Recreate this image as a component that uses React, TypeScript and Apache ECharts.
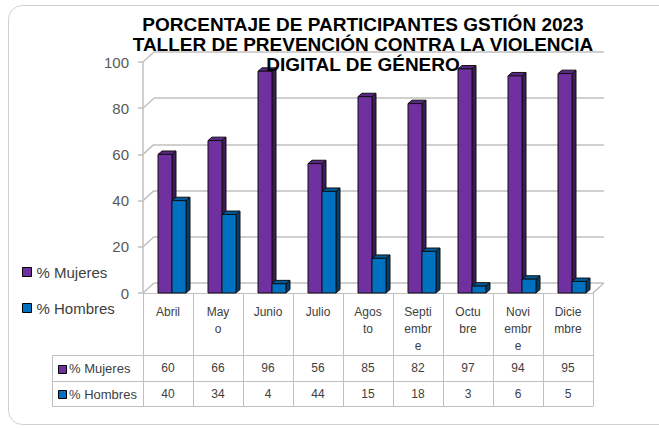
import React, { useEffect, useRef } from "react";
import * as echarts from "echarts";

const categories = ["Abril", "May\no", "Junio", "Julio", "Agos\nto", "Septi\nembr\ne", "Octu\nbre", "Novi\nembr\ne", "Dicie\nmbre"];
const mujeres = [60, 66, 96, 56, 85, 82, 97, 94, 95];
const hombres = [40, 34, 4, 44, 15, 18, 3, 6, 5];
const seriesNames = ["% Mujeres", "% Hombres"];
const yTicks = [0, 20, 40, 60, 80, 100];
const titleText = "PORCENTAJE DE PARTICIPANTES GSTIÓN 2023\nTALLER DE PREVENCIÓN CONTRA LA VIOLENCIA\nDIGITAL DE GÉNERO";

const FONT = "'Liberation Sans', Arial, sans-serif";
const W = 659;
const H = 428;
const PL = 143; // plot left
const PR = 593; // plot right
const PT = 62; // value 100
const PB = 293; // value 0
const DX = 11;
const DY = -10;
const BD = 4; // bar depth
const ROW1 = 62;
const ROW2 = 26;
const ROW3 = 25;

const faces = [
  { front: "#7030A0", top: "#5a2784", side: "#3d1a5c" },
  { front: "#0070C0", top: "#005a9c", side: "#003e6d" },
];

function barRender(si: number) {
  return (params: any, api: any) => {
    const cat = api.value(0);
    const v = api.value(1);
    const base = api.coord([cat, 0]);
    const top = api.coord([cat, v]);
    const bw = api.size([1, 0])[0];
    const barW = bw * 0.28;
    const x0 = base[0] - bw / 2 + bw * 0.3 + si * barW;
    const x1 = x0 + barW;
    const yt = top[1];
    const yb = base[1];
    const c = faces[si];
    const st = { stroke: "#111", lineWidth: 1 };
    return {
      type: "group",
      children: [
        {
          type: "polygon",
          shape: { points: [[x1, yt], [x1 + BD, yt - BD * 0.85], [x1 + BD, yb - BD * 0.85], [x1, yb]] },
          style: { fill: c.side, ...st },
        },
        {
          type: "polygon",
          shape: { points: [[x0, yt], [x0 + BD, yt - BD * 0.85], [x1 + BD, yt - BD * 0.85], [x1, yt]] },
          style: { fill: c.top, ...st },
        },
        {
          type: "rect",
          shape: { x: x0, y: yt, width: barW, height: yb - yt },
          style: { fill: c.front, ...st },
        },
      ],
    };
  };
}

export default function App() {
  const ref = useRef<HTMLDivElement>(null);
  useEffect(() => {
    if (!ref.current) return;
    const chart = echarts.init(ref.current, undefined, { renderer: "svg" });
    const gray = "#c0c0c0";
    const gridGray = "#c0c0c0";
    const option: any = {
      animation: false,
      backgroundColor: "#ffffff",
      title: {
        text: titleText,
        left: 358,
        top: 9,
        textAlign: "center",
        textStyle: { fontFamily: FONT, fontSize: 19, fontWeight: "bold", color: "#000", lineHeight: 20 },
      },
      legend: {
        data: seriesNames,
        orient: "vertical",
        left: 22,
        top: 264,
        padding: 0,
        itemGap: 20,
        itemWidth: 9,
        itemHeight: 9,
        icon: "rect",
        itemStyle: { borderColor: "#000", borderWidth: 1 },
        textStyle: { fontFamily: FONT, fontSize: 15, lineHeight: 16, color: "#404040" },
      },
      grid: [
        { left: PL, right: W - PR, top: PT, bottom: H - PB },
        { left: PL + DX, right: W - PR - DX, top: PT + DY, bottom: H - PB - DY },
      ],
      xAxis: [
        {
          type: "category",
          gridIndex: 0,
          data: categories,
          axisLine: { show: true, lineStyle: { color: gray, width: 1 } },
          axisTick: { show: true, length: ROW1, lineStyle: { color: gray } },
          axisLabel: { interval: 0, fontFamily: FONT, fontSize: 12, lineHeight: 17, color: "#404040", margin: 10 },
        },
        {
          type: "category",
          gridIndex: 0,
          position: "bottom",
          offset: ROW1,
          data: mujeres.map(String),
          axisLine: { show: true, lineStyle: { color: gray, width: 1 } },
          axisTick: { show: true, length: ROW2, lineStyle: { color: gray } },
          axisLabel: { interval: 0, fontFamily: FONT, fontSize: 12, color: "#404040", margin: 7 },
        },
        {
          type: "category",
          gridIndex: 0,
          position: "bottom",
          offset: ROW1 + ROW2,
          data: hombres.map(String),
          axisLine: { show: true, lineStyle: { color: gray, width: 1 } },
          axisTick: { show: true, length: ROW3, lineStyle: { color: gray } },
          axisLabel: { interval: 0, fontFamily: FONT, fontSize: 12, color: "#404040", margin: 7 },
        },
        {
          type: "category",
          gridIndex: 0,
          position: "bottom",
          offset: ROW1 + ROW2 + ROW3,
          data: categories,
          axisLine: { show: true, lineStyle: { color: gray, width: 1 } },
          axisTick: { show: false },
          axisLabel: { show: false },
        },
        {
          type: "category",
          gridIndex: 1,
          data: categories,
          show: false,
        },
      ],
      yAxis: [
        {
          type: "value",
          gridIndex: 0,
          min: 0,
          max: 100,
          interval: 20,
          axisLine: { show: true, lineStyle: { color: gray, width: 1.5 } },
          axisTick: { show: true, length: 5, lineStyle: { color: gray, width: 1.5 } },
          axisLabel: { fontFamily: FONT, fontSize: 15, color: "#595959", margin: 14 },
          splitLine: { show: false },
        },
        {
          type: "value",
          gridIndex: 1,
          min: 0,
          max: 100,
          interval: 20,
          axisLine: { show: false },
          axisTick: { show: false },
          axisLabel: { show: false },
          splitLine: { show: true, lineStyle: { color: gridGray, width: 1.5 } },
        },
      ],
      graphic: [
        {
          type: "rect",
          z: -10,
          shape: { x: 8.5, y: 5.5, width: 680, height: 419, r: 14 },
          style: { fill: "#fff", stroke: "#d0d0d0", lineWidth: 1 },
        },
        {
          type: "rect",
          shape: { x: 52.5, y: PB + ROW1 + 0.5, width: PL - 52, height: ROW2 + ROW3 },
          style: { fill: "none", stroke: gray, lineWidth: 1 },
        },
        {
          type: "line",
          shape: { x1: 52.5, y1: PB + ROW1 + ROW2 + 0.5, x2: PL, y2: PB + ROW1 + ROW2 + 0.5 },
          style: { stroke: gray, lineWidth: 1 },
        },
        ...seriesNames.map((name, i) => {
          const cy = PB + ROW1 + (i === 0 ? ROW2 / 2 : ROW2 + ROW3 / 2) + 0.5;
          return {
            type: "group",
            children: [
              {
                type: "rect",
                shape: { x: 58.5, y: Math.round(cy - 4) + 0.5, width: 8, height: 8 },
                style: { fill: faces[i].front, stroke: "#000", lineWidth: 1 },
              },
              {
                type: "text",
                x: 69,
                y: cy,
                style: { text: name, font: `13px ${FONT}`, fill: "#404040", verticalAlign: "middle" },
              },
            ],
          };
        }),
      ],
      series: [
        {
          type: "custom",
          name: "walls",
          xAxisIndex: 0,
          yAxisIndex: 0,
          silent: true,
          data: yTicks.map((v) => [0, v]),
          renderItem: (params: any, api: any) => {
            const cs = params.coordSys;
            const p = api.coord([0, api.value(1)]);
            const children: any[] = [
              {
                type: "line",
                shape: { x1: cs.x, y1: p[1], x2: cs.x + DX, y2: p[1] + DY },
                style: { stroke: gridGray, lineWidth: 1.5 },
              },
            ];
            if (api.value(1) === 0) {
              children.push({
                type: "line",
                shape: { x1: cs.x + cs.width, y1: p[1], x2: cs.x + cs.width + DX, y2: p[1] + DY },
                style: { stroke: gridGray, lineWidth: 1.5 },
              });
            }
            return { type: "group", children };
          },
        },
        {
          type: "custom",
          name: seriesNames[0],
          xAxisIndex: 0,
          yAxisIndex: 0,
          itemStyle: { color: faces[0].front },
          data: mujeres.map((v, i) => [i, v]),
          renderItem: barRender(0),
        },
        {
          type: "custom",
          name: seriesNames[1],
          xAxisIndex: 0,
          yAxisIndex: 0,
          itemStyle: { color: faces[1].front },
          data: hombres.map((v, i) => [i, v]),
          renderItem: barRender(1),
        },
      ],
    };
    chart.setOption(option);
    return () => chart.dispose();
  }, []);
  return <div ref={ref} style={{ position: "absolute", left: 0, top: 0, width: W, height: H }} />;
}
